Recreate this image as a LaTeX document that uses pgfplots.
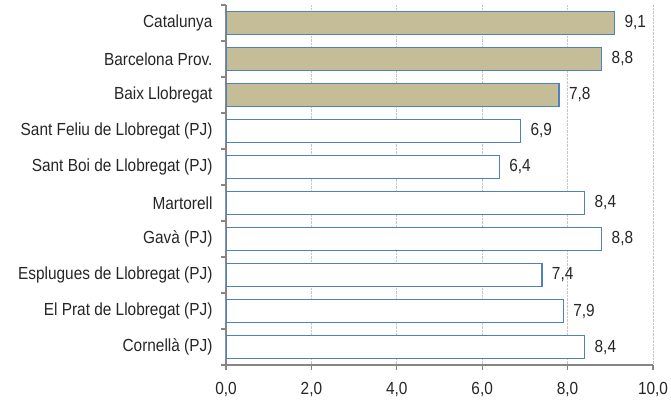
\documentclass[border=0pt]{standalone}
\usepackage{pgfplots}
\pgfplotsset{compat=1.18}
\usepackage{fontspec}
\setmainfont{Liberation Sans}[FakeStretch=0.88]
\definecolor{tanfill}{HTML}{C4BD97}
\definecolor{baredge}{HTML}{4F81BD}
\definecolor{axgray}{HTML}{868686}
\begin{document}
\begin{tikzpicture}
\path[use as bounding box] (-226pt,-35pt) rectangle (445pt,365pt);
\begin{axis}[
  at={(0,0)}, anchor=south west,
  scale only axis, width=427pt, height=360pt,
  xbar, bar width=23.5pt, bar shift=0pt,
  xmin=0, xmax=10, ymin=-0.5, ymax=9.5, y dir=reverse,
  xtick={0,2,...,10},
  ytick={0,...,9},
  yticklabels={Catalunya, Barcelona Prov., Baix Llobregat, Sant Feliu de Llobregat (PJ), Sant Boi de Llobregat (PJ), Martorell, Gavà (PJ), Esplugues de Llobregat (PJ), El Prat de Llobregat (PJ), Cornellà (PJ)},
  minor ytick={-0.5,0.5,...,9.5},
  axis x line*=bottom, axis y line*=left,
  axis line style={axgray, line width=1.2pt, -},
  tick align=outside,
  major tick length=5pt, minor tick length=5pt,
  ytick style={draw=none},
  minor y tick style={draw=axgray, line width=1.2pt},
  xtick style={axgray, line width=1.2pt},
  xmajorgrids, major grid style={densely dotted, gray!45, line width=0.8pt},
  /pgf/number format/assume math mode=true,
  /pgf/number format/fixed, /pgf/number format/fixed zerofill,
  /pgf/number format/precision=1, /pgf/number format/use comma,
  ticklabel style={font=\fontsize{17.5}{20}\selectfont, text=black!85},
  yticklabel style={xshift=-5pt},
  xticklabel style={yshift=-9pt},
  nodes near coords,
  nodes near coords style={font=\fontsize{17.5}{20}\selectfont, text=black!85},
  every node near coord/.append style={xshift=6pt},
]
\addplot[fill=tanfill, draw=baredge, line width=1.3pt] coordinates {(9.1,0) (8.8,1) (7.8,2)};
\addplot[fill=white, draw=baredge, line width=1.3pt] coordinates {(6.9,3) (6.4,4) (8.4,5) (8.8,6) (7.4,7) (7.9,8) (8.4,9)};
\end{axis}
\end{tikzpicture}
\end{document}
